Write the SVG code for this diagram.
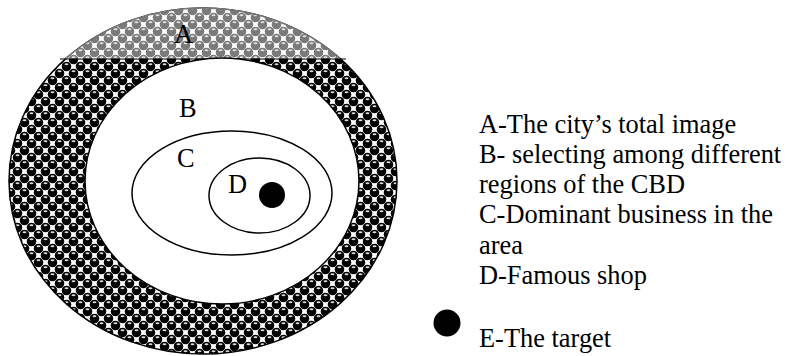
<svg xmlns="http://www.w3.org/2000/svg" width="798" height="356" viewBox="0 0 798 356">
<style>
text{font-family:'Liberation Serif','Times New Roman',Times,'DejaVu Serif',serif;font-size:26.4px;fill:#000}
.ln{fill:#fff;stroke:#000;stroke-width:1.5}
</style>
<defs>
<pattern id="pb" width="14" height="14" patternUnits="userSpaceOnUse">
<rect width="14" height="14" fill="#fff"/>
<g fill="#000">
<circle cx="3.5" cy="3.5" r="4.8"/>
<circle cx="10.5" cy="10.5" r="4.8"/>
<circle cx="-3.5" cy="10.5" r="4.8"/>
<circle cx="17.5" cy="3.5" r="4.8"/>
<circle cx="10.5" cy="-3.5" r="4.8"/>
<circle cx="3.5" cy="17.5" r="4.8"/>
</g>
<g fill="#d8d8d8">
<ellipse cx="3.5" cy="1.2" rx="2" ry="1"/>
<ellipse cx="10.5" cy="8.2" rx="2" ry="1"/>
</g>
</pattern>
<pattern id="pg" width="14" height="14" patternUnits="userSpaceOnUse">
<rect width="14" height="14" fill="#fff"/>
<g fill="#7a7a7a">
<circle cx="3.5" cy="3.5" r="4.8"/>
<circle cx="10.5" cy="10.5" r="4.8"/>
<circle cx="-3.5" cy="10.5" r="4.8"/>
<circle cx="17.5" cy="3.5" r="4.8"/>
<circle cx="10.5" cy="-3.5" r="4.8"/>
<circle cx="3.5" cy="17.5" r="4.8"/>
</g>
<g fill="#e0e0e0">
<ellipse cx="3.5" cy="1.2" rx="2" ry="1"/>
<ellipse cx="10.5" cy="8.2" rx="2" ry="1"/>
</g>
</pattern>
<clipPath id="top"><rect x="0" y="0" width="420" height="59"/></clipPath>
</defs>
<g id="regionA-outer">
<ellipse cx="203" cy="181" rx="194" ry="173" fill="url(#pb)" stroke="#000" stroke-width="1.5"/>
<ellipse cx="203" cy="181" rx="194" ry="173" fill="url(#pg)" stroke="#777" stroke-width="1.5" clip-path="url(#top)"/>
<line x1="60" y1="59" x2="346" y2="59" stroke="#000" stroke-width="1.2"/>
<text x="174" y="43">A</text>
</g>
<g id="regionB">
<ellipse class="ln" cx="222" cy="181" rx="137" ry="123"/>
<text x="179" y="117">B</text>
</g>
<g id="regionC">
<ellipse class="ln" cx="232" cy="193" rx="100" ry="62"/>
<text x="177" y="167">C</text>
</g>
<g id="regionD">
<ellipse class="ln" cx="259.5" cy="195.5" rx="50.5" ry="37.5"/>
<text x="228" y="193">D</text>
</g>
<g id="target">
<circle cx="272" cy="195" r="13" fill="#000"/>
</g>
<g id="legend">
<text x="479" y="133">A-The city’s total image</text>
<text x="479" y="163">B- selecting among different</text>
<text x="479" y="193">regions of the CBD</text>
<text x="479" y="223">C-Dominant business in the</text>
<text x="479" y="254">area</text>
<text x="479" y="284">D-Famous shop</text>
<circle cx="447" cy="323" r="13.5" fill="#000"/>
<text x="479" y="347">E-The target</text>
</g>
<g id="connectors"/>
</svg>
